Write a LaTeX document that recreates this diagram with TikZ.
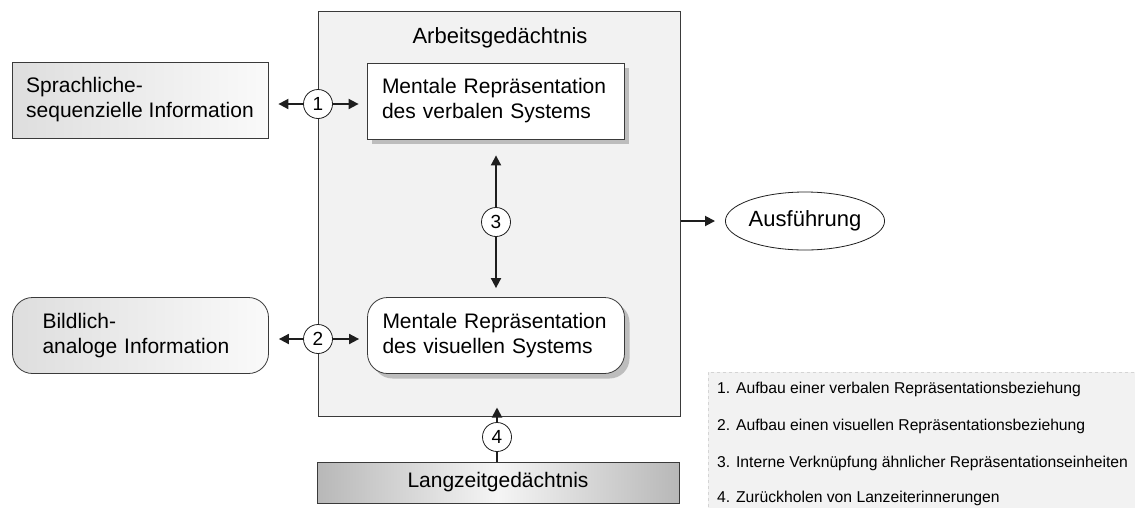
\documentclass[tikz,border=0pt]{standalone}
\usepackage{fontspec}
\setmainfont{Liberation Sans}
\usetikzlibrary{arrows.meta,shapes.geometric,shadows,calc}

\definecolor{frame}{HTML}{3A3A3A}
\definecolor{wmfill}{HTML}{F2F2F2}
\definecolor{ink}{HTML}{1E1E1E}
\definecolor{shade}{HTML}{BDBDBD}
\definecolor{legendline}{HTML}{D4D4D4}

\tikzset{
  lbl/.style={font=\fontsize{21}{25}\selectfont, align=left},
  infobox/.style={draw=frame, line width=0.8pt, left color=black!13, right color=black!2,
    minimum width=256pt, minimum height=76pt, inner xsep=0pt, lbl},
  repbox/.style={draw=frame, line width=0.8pt, fill=white,
    minimum width=257pt, minimum height=76pt, text width=227pt, inner xsep=15pt, lbl,
    general shadow={fill=shade, shadow xshift=5pt, shadow yshift=-5pt}},
  numcirc/.style={circle, draw=ink, line width=0.8pt, fill=white, minimum size=29pt,
    inner sep=0pt, font=\fontsize{19}{19}\selectfont},
  arr/.style={draw=ink, line width=1.8pt, -{Triangle[length=10pt,width=10pt]}},
  legendtext/.style={anchor=base west, inner sep=0pt, font=\fontsize{15.7}{18}\selectfont},
}

\begin{document}
\begin{tikzpicture}[x=1pt, y=-1pt]
\useasboundingbox (0,0) rectangle (1135,507);

% working memory frame
\node[draw=frame, line width=1pt, fill=wmfill, minimum width=362pt, minimum height=405pt,
  inner sep=0pt] (wm) at (499,213.5) {};
\node[font=\fontsize{22}{26}\selectfont] (wmtitle) at (500,38) {Arbeitsgedächtnis};

% representations inside working memory
\node[repbox] (verbal) at (495.5,101) {Mentale Repräsentation\\des verbalen Systems};
\node[repbox, rounded corners=20pt] (visual) at (496,335.5) {Mentale Repräsentation\\des visuellen Systems};

% external information sources
\node[infobox] (sprach) at (140,100) {Sprachliche-\\sequenzielle Information};
\node[infobox, rounded corners=20pt, text width=196pt, inner xsep=30pt]
  (bild) at (140.5,335.5) {Bildlich-\\analoge Information};

% long-term memory
\node[draw=frame, line width=0.8pt, minimum width=362pt, minimum height=41pt, inner sep=0pt,
  left color=black!28, right color=black!28, middle color=black!4,
  font=\fontsize{21}{25}\selectfont] (ltm) at (498,482.5) {Langzeitgedächtnis};

% execution
\node[ellipse, draw=ink, line width=0.8pt, fill=white, minimum width=152pt, minimum height=58pt,
  inner sep=0pt, font=\fontsize{22}{26}\selectfont] (exec) at (805,221) {Ausführung};

% numbered links
\node[numcirc] (c1) at (318,104) {1};
\node[numcirc] (c2) at (318,339) {2};
\node[numcirc] (c3) at (496,222) {3};
\node[numcirc] (c4) at (497,437) {4};

\draw[arr, shorten >=10pt] (c1.west) -- (c1.west -| sprach.east);
\draw[arr, shorten >=8pt] (c1.east) -- (c1.east -| verbal.west);
\draw[arr, shorten >=10pt] (c2.west) -- (c2.west -| bild.east);
\draw[arr, shorten >=8pt] (c2.east) -- (c2.east -| visual.west);
\draw[arr, shorten >=16pt] (c3.north) -- (c3.north |- verbal.south);
\draw[arr, shorten >=9pt] (c3.south) -- (c3.south |- visual.north);
\draw[draw=ink, line width=1.8pt] (c4 |- ltm.north) -- (c4.south);
\draw[arr, shorten >=-9pt] (c4.north) -- (c4.north |- wm.south);
\draw[arr, shorten >=10pt] (exec.west -| wm.east) -- (exec.west);

% legend
\node[draw=legendline, dashed, line width=0.6pt, fill=wmfill, minimum width=430pt,
  minimum height=136pt, inner sep=0pt] (legend) at (923,440) {};
\node[legendtext] (l1) at (717,393) {1. Aufbau einer verbalen Repräsentationsbeziehung};
\node[legendtext] (l2) at (717,430) {2. Aufbau einen visuellen Repräsentationsbeziehung};
\node[legendtext] (l3) at (717,467) {3. Interne Verknüpfung ähnlicher Repräsentationseinheiten};
\node[legendtext] (l4) at (717,502) {4. Zurückholen von Lanzeiterinnerungen};
\end{tikzpicture}
\end{document}
